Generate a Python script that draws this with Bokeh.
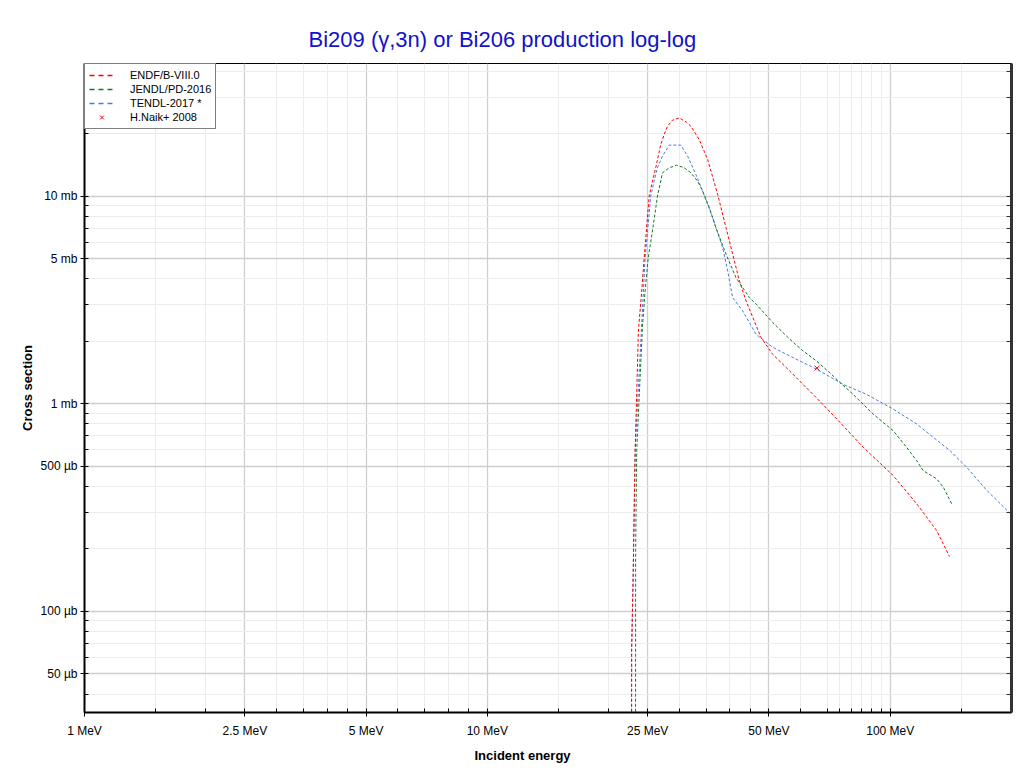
from bokeh.plotting import figure
from bokeh.models import (Range1d, FixedTicker, CustomJSTickFormatter, LogAxis,
                          Legend, LegendItem, Title)
from bokeh.embed import file_html
from bokeh.resources import INLINE

# ---------------- data (energy in MeV, cross section in mb) ----------------
endf_e = [22.78, 22.81, 22.99, 23.13, 23.27, 23.71, 24.16, 24.49, 25.21, 25.69, 26.18,
          26.94, 27.5, 28.0, 28.8, 29.94, 31.2, 32.0, 33.57, 35.22, 37.29, 39.12, 40.64,
          42.24, 43.86, 47.8, 51.1, 57.3, 66.8, 76.4, 85.7, 101.7, 116.3, 130.4, 140.3]
endf_xs = [0.001, 0.065, 0.136, 0.284, 0.594, 2.24, 3.49, 4.96, 10.0, 11.8, 13.7,
           17.7, 19.9, 21.7, 23.2, 23.8, 22.7, 21.7, 18.7, 15.0, 10.2, 7.04, 5.25,
           3.90, 3.13, 2.08, 1.73, 1.39, 1.03, 0.784, 0.617, 0.451, 0.330, 0.245, 0.184]

jendl_e = [23.30, 23.34, 23.48, 24.26, 24.63, 25.06, 25.69, 26.44, 27.21, 28.27, 29.48,
           30.81, 32.0, 33.25, 34.2, 35.56, 36.93, 39.12, 41.42, 44.73, 46.45, 51.1,
           56.25, 60.7, 65.5, 70.8, 74.9, 80.9, 90.7, 101.7, 109.8, 116.3, 120.8,
           130.4, 135.5, 142.1]
jendl_xs = [0.001, 0.197, 0.594, 2.33, 3.49, 4.98, 6.79, 10.0, 12.95, 13.68, 14.09,
            13.68, 12.95, 11.8, 10.6, 8.79, 7.04, 5.25, 4.05, 3.24, 3.02, 2.46,
            2.05, 1.80, 1.61, 1.41, 1.27, 1.11, 0.892, 0.742, 0.617, 0.532, 0.476,
            0.435, 0.396, 0.330]

tendl_e = [22.78, 22.81, 22.99, 23.13, 23.27, 24.63, 25.44, 25.94, 26.44, 27.21, 28.27,
           30.22, 31.4, 32.93, 34.2, 36.24, 38.38, 39.5, 40.64, 43.05, 46.45, 51.1,
           56.25, 65.5, 76.4, 87.3, 101.7, 116.3, 140.8, 154.9, 173.8, 200.0]
tendl_xs = [0.001, 0.065, 0.136, 0.284, 0.594, 4.98, 10.0, 11.8, 13.7, 15.6, 17.6,
            17.6, 15.6, 12.7, 10.6, 7.87, 5.64, 4.36, 3.24, 2.80, 2.16, 1.87,
            1.70, 1.47, 1.24, 1.11, 0.943, 0.799, 0.594, 0.494, 0.382, 0.292]

naik_e = [65.8]
naik_xs = [1.485]

x_major = [1, 2.5, 5, 10, 25, 50, 100]
x_labels = ["1 MeV", "2.5 MeV", "5 MeV", "10 MeV", "25 MeV", "50 MeV", "100 MeV"]
x_minor = [1.5, 2, 3, 3.5, 4, 4.5, 6, 7, 8, 9, 15, 20, 30, 35, 40, 45,
           60, 70, 75, 80, 85, 90, 95, 150, 200]
y_major = [0.05, 0.1, 0.5, 1, 5, 10]
y_labels = ["50 µb", "100 µb", "500 µb", "1 mb", "5 mb", "10 mb"]
y_minor = [0.04, 0.06, 0.07, 0.08, 0.09, 0.2, 0.3, 0.4, 0.6, 0.7, 0.8, 0.9,
           2, 3, 4, 6, 7, 8, 9, 20, 30, 40]

series_names = ["ENDF/B-VIII.0", "JENDL/PD-2016", "TENDL-2017 *", "H.Naik+ 2008"]
RED, GREEN, BLUE = "#ff0000", "#157a25", "#4a78e6"
FONT = "Liberation Sans"
NAN = float("nan")

# ---------------- figure ----------------
p = figure(width=1022, height=773, x_axis_type="log", y_axis_type="log",
           x_range=Range1d(1, 200), y_range=Range1d(0.0326, 43.5),
           output_backend="svg", toolbar_location=None,
           min_border_left=84, min_border_right=11, min_border_top=63, min_border_bottom=61)
p.background_fill_color = "white"
p.border_fill_color = "white"
p.outline_line_color = "black"
p.outline_line_width = 1

fmt_code = """
for (let i = 0; i < vals.length; i++) {
  if (Math.abs(tick - vals[i]) <= 1e-6 * vals[i]) return labs[i];
}
return '';
"""
p.xaxis.ticker = FixedTicker(ticks=x_major, minor_ticks=x_minor)
p.yaxis.ticker = FixedTicker(ticks=y_major, minor_ticks=y_minor)
p.xaxis.formatter = CustomJSTickFormatter(args=dict(vals=x_major, labs=x_labels), code=fmt_code)
p.yaxis.formatter = CustomJSTickFormatter(args=dict(vals=y_major, labs=y_labels), code=fmt_code)

for ax in (p.xaxis[0], p.yaxis[0]):
    ax.axis_line_color = "black"
    ax.axis_line_width = 2
    ax.major_tick_line_color = "black"
    ax.minor_tick_line_color = "black"
    ax.major_tick_in = 4
    ax.major_tick_out = 4
    ax.minor_tick_in = 4
    ax.minor_tick_out = 0
    ax.major_label_text_font = FONT
    ax.major_label_text_font_size = "12px"
    ax.major_label_text_color = "black"
    ax.axis_label_text_font = FONT
    ax.axis_label_text_font_size = "13px"
    ax.axis_label_text_font_style = "bold"
    ax.axis_label_text_color = "black"

p.xaxis.major_label_standoff = 7
p.yaxis.major_label_standoff = 3
p.yaxis.axis_label = "Cross section"
p.yaxis.axis_label_standoff = 3

# right axis: ticks only
ra = LogAxis(ticker=FixedTicker(ticks=y_major, minor_ticks=y_minor),
             formatter=CustomJSTickFormatter(code="return '';"))
ra.axis_line_color = "#333333"
ra.axis_line_width = 3
ra.major_tick_in = 5
ra.major_tick_out = 0
ra.minor_tick_in = 5
ra.minor_tick_out = 0
ra.major_tick_line_color = "#333333"
ra.minor_tick_line_color = "#333333"
ra.major_label_standoff = 0
p.add_layout(ra, "right")

# grids
for g in (p.xgrid[0], p.ygrid[0]):
    g.grid_line_color = "#cfcfcf"
    g.grid_line_width = 1.3
    g.minor_grid_line_color = "#ececec"
    g.minor_grid_line_width = 1

# title
p.title.text = "Bi209 (\u03b3,3n) or Bi206 production log-log"
p.title.text_font = FONT
p.title.text_font_size = "22px"
p.title.text_font_style = "normal"
p.title.text_color = "#1212c8"
p.title.align = "left"
p.title.offset = 224
p.title.standoff = 23

xlab = Title(text="Incident energy", align="left", offset=390,
             text_font=FONT, text_font_size="13px", text_font_style="bold",
             text_color="black", standoff=11)
p.add_layout(xlab, "below")

# ---------------- data lines ----------------
DASH = "3 2"
p.line(tendl_e, tendl_xs, line_color=BLUE, line_width=1, line_dash=DASH)
p.line(jendl_e, jendl_xs, line_color=GREEN, line_width=1, line_dash=DASH)
p.line(endf_e, endf_xs, line_color=RED, line_width=1, line_dash=DASH)
p.scatter(naik_e, naik_xs, marker="x", size=7, line_color=RED, line_width=1)

# legend swatches (nothing drawn in the plot area)
lg_e = p.line([NAN], [NAN], line_color=RED, line_width=1.6, line_dash="5 4")
lg_j = p.line([NAN], [NAN], line_color=GREEN, line_width=1.6, line_dash="5 4")
lg_t = p.line([NAN], [NAN], line_color=BLUE, line_width=1.6, line_dash="5 4")
lg_n = p.scatter([NAN], [NAN], marker="x", size=9, line_color=RED, line_width=1)

legend = Legend(items=[LegendItem(label=series_names[0], renderers=[lg_e]),
                       LegendItem(label=series_names[1], renderers=[lg_j]),
                       LegendItem(label=series_names[2], renderers=[lg_t]),
                       LegendItem(label=series_names[3], renderers=[lg_n])],
                location="top_left", margin=0, padding=4, spacing=0,
                glyph_width=25, glyph_height=14, label_height=14,
                label_standoff=16, label_text_font=FONT, label_text_font_size="11px",
                label_text_color="black",
                border_line_color="black", border_line_width=1,
                background_fill_color="white", background_fill_alpha=1)
p.add_layout(legend, "center")

open("out.html", "w").write(file_html(p, INLINE))
